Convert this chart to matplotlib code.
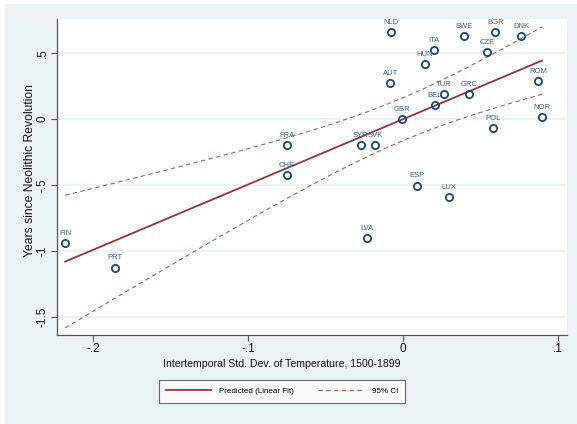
import numpy as np
import matplotlib
matplotlib.use("Agg")
import matplotlib.pyplot as plt
from matplotlib.lines import Line2D
from matplotlib.patches import Rectangle

plt.rcParams['font.family'] = ['Liberation Sans', 'DejaVu Sans']

countries = ["NLD", "SWE", "BGR", "DNK", "ITA", "CZE", "HUN", "AUT", "ROM",
             "TUR", "GRC", "BEL", "GBR", "NOR", "POL", "FRA", "SYR", "SVK",
             "CHE", "ESP", "LUX", "LVA", "FIN", "PRT"]
temp_sd = [-0.0077, 0.0396, 0.0596, 0.0761, 0.0200, 0.0544, 0.0142, -0.0082, 0.0871,
           0.0265, 0.0424, 0.0206, -0.0005, 0.0897, 0.0581, -0.0747, -0.0273, -0.0179,
           -0.0750, 0.0093, 0.0297, -0.0232, -0.2179, -0.1858]
neolithic = [0.657, 0.629, 0.657, 0.631, 0.525, 0.505, 0.417, 0.273, 0.288,
             0.189, 0.187, 0.106, -0.002, 0.015, -0.068, -0.199, -0.197, -0.197,
             -0.424, -0.505, -0.591, -0.904, -0.942, -1.126]
x_ticks = [-0.2, -0.1, 0.0, 0.1]
x_tick_labels = ["-.2", "-.1", "0", ".1"]
y_ticks = [-1.5, -1.0, -0.5, 0.0, 0.5]
y_tick_labels = ["-1.5", "-1", "-.5", "0", ".5"]

x = np.array(temp_sd)
y = np.array(neolithic)

# OLS fit with 95% confidence band for the mean prediction
n = len(x)
slope, intercept = np.polyfit(x, y, 1)
resid = y - (intercept + slope * x)
s2 = np.sum(resid ** 2) / (n - 2)
xbar = x.mean()
sxx = np.sum((x - xbar) ** 2)
t_crit = 2.0739  # t(0.975, df=22)
xg = np.linspace(x.min(), x.max(), 200)
yg = intercept + slope * xg
se = np.sqrt(s2 * (1.0 / n + (xg - xbar) ** 2 / sxx))
lo, hi = yg - t_crit * se, yg + t_crit * se

bg = "#eaf2f3"
navy = "#1a476f"
maroon = "#90353b"

fig = plt.figure(figsize=(5.77, 4.24), dpi=100, facecolor="white")
fig.patches.append(Rectangle((5 / 577, 0), 1, 1 - 4 / 424, transform=fig.transFigure,
                             facecolor=bg, edgecolor="none", zorder=-10))

ax = fig.add_axes([57 / 577, 1 - 335 / 424, 510 / 577, 316 / 424])
ax.set_facecolor("white")
ax.set_xlim(-0.2232, 0.1058)
ax.set_ylim(-1.636, 0.758)

for yt in y_ticks:
    ax.axhline(yt, color=bg, lw=1.3, zorder=0)

ax.plot(xg, lo, color=maroon, lw=0.8, ls=(0, (4, 3)), alpha=0.8, zorder=2)
ax.plot(xg, hi, color=maroon, lw=0.8, ls=(0, (4, 3)), alpha=0.8, zorder=2)
ax.plot(xg, yg, color=maroon, lw=1.3, zorder=3)

ax.plot(x, y, ls="none", marker="o", ms=5.2, mfc="none", mec=navy, mew=1.3, zorder=4)
for c, xi, yi in zip(countries, x, y):
    ax.annotate(c, (xi, yi), xytext=(0, 4.5), textcoords="offset points",
                ha="center", va="bottom", fontsize=5.5, color="#3f6187", zorder=5)

for s in ["top", "right"]:
    ax.spines[s].set_visible(False)
for s in ["left", "bottom"]:
    ax.spines[s].set_color("#555555")
    ax.spines[s].set_linewidth(0.9)

ax.set_xticks(x_ticks)
ax.set_xticklabels(x_tick_labels)
ax.set_yticks(y_ticks)
ax.set_yticklabels(y_tick_labels, rotation=90, va="center")
ax.tick_params(axis="both", direction="out", length=4, width=0.8, color="#555555",
               labelsize=8.5, labelcolor="#111111", pad=2)

ax.set_xlabel("Intertemporal Std. Dev. of Temperature, 1500-1899", fontsize=7.6,
              color="#111111", va="center")
ax.xaxis.set_label_coords(0.441, -0.092)
ax.set_ylabel("Years since Neolithic Revolution", fontsize=8.7, color="#111111",
              va="center")
ax.yaxis.set_label_coords(-0.053, 0.519)

handles = [Line2D([], [], color=maroon, lw=1.3),
           Line2D([], [], color=maroon, lw=0.8, ls=(0, (4, 3)), alpha=0.8)]
leg = fig.legend(handles, ["Predicted (Linear Fit)", "95% CI"], ncol=2,
                 loc="center", bbox_to_anchor=(282 / 577, 1 - 391.5 / 424),
                 fontsize=5.8, frameon=True, fancybox=False, handlelength=5.6,
                 columnspacing=3.0, handletextpad=1.0, borderpad=0.9, borderaxespad=0)
leg.get_frame().set_edgecolor("#444444")
leg.get_frame().set_linewidth(0.8)
leg.get_frame().set_facecolor("white")

fig.savefig("out.png", dpi=100, facecolor=fig.get_facecolor())
